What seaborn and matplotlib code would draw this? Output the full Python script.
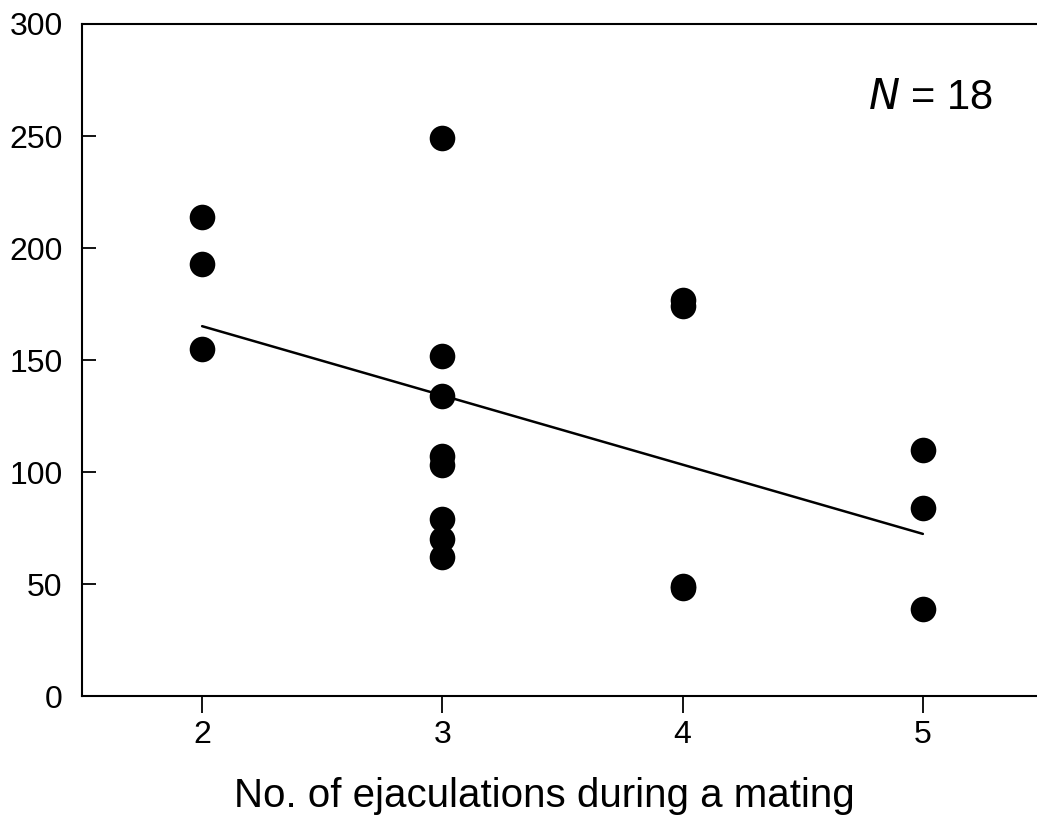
import matplotlib
matplotlib.use("Agg")
import matplotlib.pyplot as plt
import seaborn as sns
import pandas as pd

sns.set_style("ticks")
plt.rcParams['font.family'] = ['Liberation Sans', 'DejaVu Sans']
plt.rcParams['text.color'] = 'black'
plt.rcParams['xtick.color'] = 'black'
plt.rcParams['ytick.color'] = 'black'
plt.rcParams['axes.labelcolor'] = 'black'

ejaculations = [2, 2, 2,
                3, 3, 3, 3, 3, 3, 3, 3,
                4, 4, 4, 4,
                5, 5, 5]
values = [214, 193, 155,
          249, 152, 134, 107, 103, 79, 70, 62,
          177, 174, 49, 48,
          110, 84, 39]
x_ticks = [2, 3, 4, 5]
y_ticks = [0, 50, 100, 150, 200, 250, 300]

df = pd.DataFrame({"x": ejaculations, "y": values})

fig = plt.figure(figsize=(10.37, 8.21), dpi=100)
ax = fig.add_axes([82/1037, 1-696/821, (1043-82)/1037, (696-24)/821])

sns.regplot(data=df, x="x", y="y", scatter=False, ci=None, truncate=True,
            line_kws=dict(color="black", lw=1.8), ax=ax)
sns.scatterplot(data=df, x="x", y="y", s=340, color="black", edgecolor="black",
                linewidth=0, ax=ax, zorder=3)

ax.set_xlim(1.5, 5.5)
ax.set_ylim(0, 300)
ax.set_xticks(x_ticks)
ax.set_yticks(y_ticks)
ax.tick_params(axis="y", direction="in", length=10, width=1.3, pad=14, labelsize=23)
ax.tick_params(axis="x", direction="out", length=12, width=1.3, pad=5, labelsize=23)
for s in ["left", "bottom", "top"]:
    ax.spines[s].set_linewidth(1.5)
    ax.spines[s].set_color("black")
ax.spines["right"].set_visible(False)
ax.set_xlabel("No. of ejaculations during a mating", fontsize=29)
ax.xaxis.set_label_coords(0.481, -0.12)
ax.set_ylabel("")
ax.text(0.818, 0.89, r"$\it{N}$ = 18", transform=ax.transAxes, fontsize=30,
        ha="left", va="center")

fig.savefig("out.png", dpi=100)
